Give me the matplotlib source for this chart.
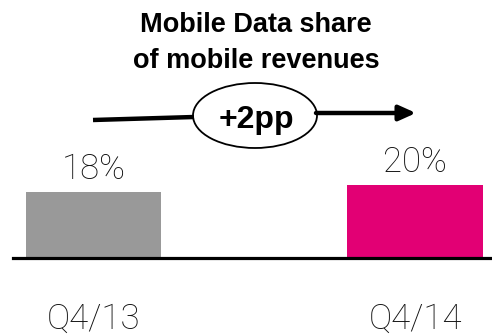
import matplotlib
matplotlib.use("Agg")
import matplotlib.pyplot as plt
from matplotlib.patches import Ellipse

quarters = ["Q4/13", "Q4/14"]
data_share = [18, 20]
bar_colors = ["#999999", "#E20074"]
change_label = "+2pp"
title_lines = ["Mobile Data share", "of mobile revenues"]

light = ["Roboto", "DejaVu Sans"]
bold = ["Liberation Sans", "DejaVu Sans"]

fig = plt.figure(figsize=(4.92, 3.36), dpi=100)

# bar panel, bottom spine is the baseline
ax = fig.add_axes([13 / 492, 78.5 / 336, 479 / 492, 25 * 3.63 / 336])
ax.bar(range(len(data_share)), data_share, width=0.42, color=bar_colors)
ax.set_xlim(-0.2504, 1.2395)
ax.set_ylim(0, 25)
for s in ["top", "right", "left"]:
    ax.spines[s].set_visible(False)
ax.spines["bottom"].set_linewidth(2.3)
ax.set_yticks([])
ax.set_xticks(range(len(quarters)))
ax.set_xticklabels(quarters, fontsize=25, family=light, fontweight="light",
                   color="#111111")
ax.tick_params(axis="x", length=0, pad=32)
for i, v in enumerate(data_share):
    ax.annotate(f"{v}%", (i, v), xytext=(0, 4.5), textcoords="offset points",
                ha="center", va="bottom", fontsize=25, family=light,
                fontweight="light", color="#111111")

# overlay in pixel units for title and growth arrow
ov = fig.add_axes([0, 0, 1, 1], facecolor="none")
ov.set_xlim(0, 492)
ov.set_ylim(336, 0)
ov.axis("off")
ov.text(256, 32, title_lines[0], ha="center", va="baseline", fontsize=19.5,
        fontweight="bold", family=bold)
ov.text(256, 68, title_lines[1], ha="center", va="baseline", fontsize=19.5,
        fontweight="bold", family=bold)
ov.plot([93, 194], [120, 117], color="black", lw=3.2, solid_capstyle="butt")
ov.annotate("", xy=(416, 113), xytext=(316, 113),
            arrowprops=dict(arrowstyle="-|>,head_length=1.0,head_width=0.45",
                            color="black", lw=3.2, shrinkA=0, shrinkB=0))
ov.add_patch(Ellipse((255, 115.5), 124, 65, facecolor="white",
                     edgecolor="black", lw=1.3))
ov.text(256.5, 128, change_label, ha="center", va="baseline", fontsize=23,
        fontweight="bold", family=bold)

fig.savefig("out.png", dpi=100)
